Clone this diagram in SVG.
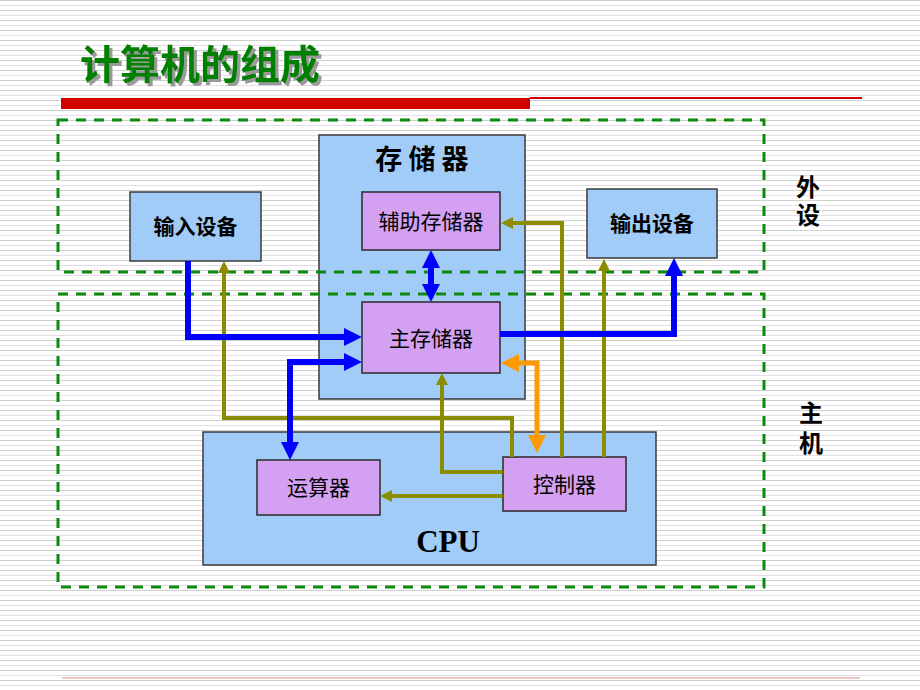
<svg xmlns="http://www.w3.org/2000/svg" width="920" height="690" viewBox="0 0 920 690">
<defs>
<pattern id="stripes" width="10" height="10" patternUnits="userSpaceOnUse">
<rect width="10" height="10" fill="#ffffff"/>
<rect y="0" width="10" height="1" fill="#cdd1cd"/>
<rect y="5" width="10" height="1" fill="#e6dde6"/>
</pattern>
<filter id="shadow" x="-5%" y="-20%" width="115%" height="150%">
<feDropShadow dx="3" dy="3" stdDeviation="0.4" flood-color="#9a9a9a" flood-opacity="1"/>
</filter>
<marker id="ab" markerUnits="userSpaceOnUse" markerWidth="18" markerHeight="18" viewBox="0 0 18 18" refX="0" refY="9" orient="auto-start-reverse"><path d="M0,0 L18,9 L0,18 Z" fill="#0000ff"/></marker>
<marker id="ao" markerUnits="userSpaceOnUse" markerWidth="18" markerHeight="18" viewBox="0 0 18 18" refX="0" refY="9" orient="auto-start-reverse"><path d="M0,0 L18,9 L0,18 Z" fill="#ff9900"/></marker>
<marker id="ag" markerUnits="userSpaceOnUse" markerWidth="12" markerHeight="12" viewBox="0 0 12 12" refX="0" refY="6" orient="auto-start-reverse"><path d="M0,0 L12,6 L0,12 Z" fill="#8c8c00"/></marker>
</defs>
<style>
.cn{font-family:"Noto Sans CJK SC","Noto Sans CJK TC",sans-serif;}
.blue{fill:#a2ccf8;stroke:#3a3a3a;stroke-width:1.5;}
.vio{fill:#d3a0f2;stroke:#2a2a2a;stroke-width:1.5;}
.lbl{font-size:21px;fill:#000;text-anchor:middle;}
.bold{font-weight:bold;}
.vert{writing-mode:vertical-rl;font-size:24px;}
.dash{fill:none;stroke:#0b8a0b;stroke-width:3;stroke-dasharray:10 8;}
.cb{fill:none;stroke:#0000ff;stroke-width:6;}
.co{fill:none;stroke:#ff9900;stroke-width:5;}
.cg{fill:none;stroke:#8c8c00;stroke-width:4;}
</style>
<rect width="920" height="690" fill="url(#stripes)"/>
<g id="title">
<text x="80" y="79" class="cn bold" font-size="40" fill="#008000" filter="url(#shadow)">计算机的组成</text>
<rect x="61" y="98" width="469" height="11" fill="#d00000"/>
<rect x="530" y="97" width="332" height="2" fill="#d00000"/>
<rect x="62" y="677.5" width="798" height="1" fill="#e89090"/>
</g>
<g id="memory">
<rect x="319" y="135" width="206" height="264" class="blue"/>
<text x="422" y="169" class="cn bold" font-size="27" text-anchor="middle">存 储 器</text>
</g>
<g id="cpu">
<rect x="203" y="432" width="453" height="133" class="blue"/>
<text x="448" y="552" font-family="Liberation Serif,serif" font-weight="bold" font-size="31" text-anchor="middle">CPU</text>
</g>
<g id="aux-storage">
<rect x="362" y="192" width="138" height="58" class="vio"/>
<text x="431" y="229" class="cn lbl">辅助存储器</text>
</g>
<g id="main-storage">
<rect x="362" y="302" width="138" height="71" class="vio"/>
<text x="431" y="346" class="cn lbl">主存储器</text>
</g>
<g id="input">
<rect x="130" y="192" width="131" height="69" class="blue"/>
<text x="195.5" y="234" class="cn lbl bold">输入设备</text>
</g>
<g id="output">
<rect x="587" y="189" width="130" height="69" class="blue"/>
<text x="652" y="231" class="cn lbl bold">输出设备</text>
</g>
<g id="alu">
<rect x="257" y="460" width="123" height="55" class="vio"/>
<text x="318.5" y="495" class="cn lbl">运算器</text>
</g>
<g id="control">
<rect x="503" y="457" width="123" height="54" class="vio"/>
<text x="564.5" y="492" class="cn lbl">控制器</text>
</g>
<g id="regions">
<rect x="58" y="120" width="706" height="152" class="dash"/>
<rect x="58" y="294" width="706" height="293" class="dash"/>
<text x="808" y="175" class="cn bold vert" letter-spacing="4">外设</text>
<text x="811" y="401" class="cn bold vert" letter-spacing="6">主机</text>
</g>
<g id="connectors">
<path class="cg" d="M562,457 V223 H513" marker-end="url(#ag)"/>
<path class="cg" d="M604,457 V271" marker-end="url(#ag)"/>
<path class="cg" d="M503,472 H442 V385" marker-end="url(#ag)"/>
<path class="cg" d="M512,457 V418 H224 V273" marker-end="url(#ag)"/>
<path class="cg" d="M503,496 H392" marker-end="url(#ag)"/>
<path class="cb" d="M188,261 V337 H344" marker-end="url(#ab)"/>
<path class="cb" d="M290,442 V362 H344" marker-start="url(#ab)" marker-end="url(#ab)"/>
<path class="cb" d="M500,334 H674 V276" marker-end="url(#ab)"/>
<path class="cb" d="M431,268 V284" marker-start="url(#ab)" marker-end="url(#ab)"/>
<path class="co" d="M537,435 V363 H519" marker-start="url(#ao)" marker-end="url(#ao)"/>
</g>
</svg>
